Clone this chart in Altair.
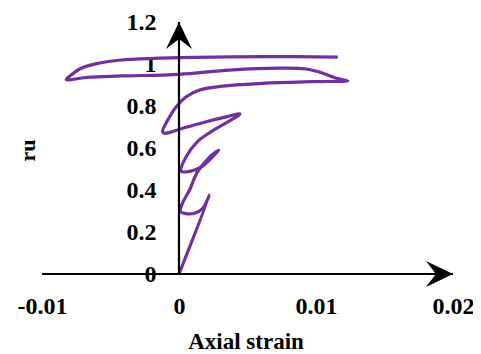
import altair as alt
import pandas as pd

# Axial strain (x) and excess pore pressure ratio ru (y), read along the path
strain = [0.0, 0.00223, 0.00174, 0.00113, 0.0004, 0.0001,
          0.00026, 0.00077, 0.00135, 0.00223, 0.00291,
          0.00247, 0.00172, 0.00113, 0.00062, 0.00015,
          0.00053, 0.00135, 0.00235, 0.00445,
          0.00345, 0.00199, 0.00028, -0.00106, -0.0012,
          -0.00082, -0.0002, 0.00053, 0.0015, 0.00318, 0.0061, 0.00974, 0.01232,
          0.01147, 0.0105, 0.00928, 0.00734, 0.00369, 0.0, -0.00422, -0.00666, -0.00823,
          -0.00787, -0.00714, -0.00593, -0.00422, -0.00179, 0.0, 0.00636, 0.01159]
ru = [0.0, 0.376, 0.313, 0.289, 0.289, 0.297,
      0.338, 0.4, 0.486, 0.557, 0.59,
      0.559, 0.514, 0.495, 0.487, 0.49,
      0.559, 0.63, 0.678, 0.762,
      0.748, 0.725, 0.694, 0.67, 0.679,
      0.733, 0.797, 0.844, 0.876, 0.895, 0.908, 0.916, 0.92,
      0.932, 0.956, 0.976, 0.98, 0.971, 0.951, 0.943, 0.937, 0.926,
      0.948, 0.98, 1.003, 1.019, 1.027, 1.03, 1.035, 1.033]

x_ticks = [-0.01, 0, 0.01, 0.02]
y_ticks = [0, 0.2, 0.4, 0.6, 0.8, 1, 1.2]
x_min, x_max = -0.01, 0.02
y_min, y_max = 0, 1.2

W, H = 411, 252
FONT = "Liberation Serif"
PURPLE = "#7030A0"

df = pd.DataFrame({"strain": strain, "ru": ru, "i": range(len(strain))})

xscale = alt.Scale(domain=[x_min, x_max], nice=False, zero=False)
yscale = alt.Scale(domain=[y_min, y_max], nice=False, zero=False)

y_axis_pos = W * (0 - x_min) / (x_max - x_min)

x_axis = alt.Axis(
    values=x_ticks, title="Axial strain", grid=False, domain=False, ticks=False, tickSize=0,
    labelFont=FONT, labelFontSize=24, labelFontWeight="bold", labelColor="black",
    labelPadding=20, labelFlush=False, labelOverlap=False,
    labelExpr="datum.value == 0 ? '0' : (datum.value < 0 ? '-' : '') + format(abs(datum.value), '.2f')",
    titleFont=FONT, titleFontSize=23, titleFontWeight="bold", titleColor="black",
    titleX=203.5, titleY=74.5, titleAlign="center", titleBaseline="alphabetic",
)
y_axis = alt.Axis(
    values=y_ticks, title="ru", grid=False, domain=False, ticks=False, tickSize=0,
    offset=-y_axis_pos,
    labelFont=FONT, labelFontSize=24, labelFontWeight="bold", labelColor="black",
    labelPadding=23, labelOverlap=False, labelFlush=False,
    labelExpr="format(datum.value, '~g')",
    titleFont=FONT, titleFontSize=22, titleFontWeight="bold", titleColor="black",
    titleX=27.5 - (42 + y_axis_pos), titleY=128, titleAngle=270,
    titleAlign="center", titleBaseline="middle",
)

curve = alt.Chart(df).mark_line(
    color=PURPLE, strokeWidth=3.2, interpolate="catmull-rom"
).encode(
    x=alt.X("strain:Q", scale=xscale, axis=x_axis),
    y=alt.Y("ru:Q", scale=yscale, axis=y_axis),
    order="i:Q",
)

base = alt.Chart(pd.DataFrame({"a": [0]}))
x_line = base.mark_rule(color="black", strokeWidth=2.2).encode(
    x=alt.datum(x_min), x2=alt.datum(x_max), y=alt.datum(0)
)
y_line = base.mark_rule(color="black", strokeWidth=2.2).encode(
    y=alt.datum(y_min), y2=alt.datum(y_max), x=alt.datum(0)
)

right_arrow = "M0,0 L-2,-0.963 L-1.26,0 L-2,0.963 Z"
up_arrow = "M0,0 L-0.963,2 L0,1.26 L0.963,2 Z"

x_head = base.mark_point(
    shape=right_arrow, filled=True, size=729, color="black", opacity=1, strokeWidth=0
).encode(x=alt.datum(x_max), y=alt.datum(0))
y_head = base.mark_point(
    shape=up_arrow, filled=True, size=729, color="black", opacity=1, strokeWidth=0
).encode(x=alt.datum(0), y=alt.datum(y_max))

chart = alt.layer(curve, x_line, y_line, x_head, y_head).properties(
    width=W, height=H,
    autosize=alt.AutoSizeParams(type="none"),
    padding={"left": 34, "top": 14, "right": 20, "bottom": 80},
).configure_view(stroke=None)

chart.save("out.html", embed_options={"renderer": "svg", "actions": False})
